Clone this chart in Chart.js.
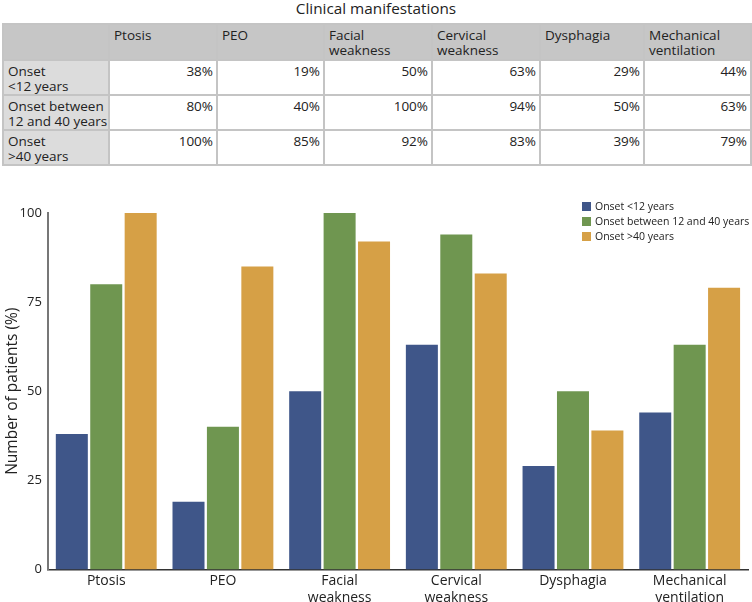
<!DOCTYPE html>
<html>
<head>
<meta charset="utf-8">
<script src="https://cdn.jsdelivr.net/npm/chart.js@4/dist/chart.umd.min.js"></script>
<style>
  body { margin: 0; background: #fff; font-family: "Open Sans", sans-serif; color: #222; }
  #wrap { position: relative; width: 752px; height: 602px; overflow: hidden; }
  #title { position: absolute; top: -2px; left: 0; width: 752px; text-align: center; font-size: 15.3px; }
  table { position: absolute; top: 23px; left: 2px; width: 748px; border-collapse: collapse; table-layout: fixed; font-size: 13.5px; line-height: 15px; }
  td, th { border: 2px solid #c4c4c4; vertical-align: top; padding: 3px 3px 0 4px; font-weight: normal; text-align: left; overflow: hidden; }
  th { background: #c6c6c6; height: 31px; }
  td.rowhead { background: #dcdcdc; white-space: nowrap; }
  td.num { text-align: right; height: 30px; }
  #chartBox { position: absolute; top: 187px; left: 0; width: 752px; height: 422px; }
  #legend { position: absolute; top: 199px; left: 582px; font-size: 10.5px; line-height: 15px; white-space: nowrap; }
  #legend span.box { display: inline-block; width: 9px; height: 9px; margin-right: 4px; vertical-align: -1px; }
</style>
</head>
<body>
<div id="wrap">
  <div id="title">Clinical manifestations</div>
  <table id="tbl"></table>
  <div id="chartBox"><canvas id="myChart" width="752" height="422"></canvas></div>
  <div id="legend"></div>
</div>
<script>
const categories = ['Ptosis', 'PEO', 'Facial weakness', 'Cervical weakness', 'Dysphagia', 'Mechanical ventilation'];
const categoryLines = [['Ptosis'], ['PEO'], ['Facial', 'weakness'], ['Cervical', 'weakness'], ['Dysphagia'], ['Mechanical', 'ventilation']];
const seriesNames = ['Onset <12 years', 'Onset between 12 and 40 years', 'Onset >40 years'];
const rowHeads = [['Onset', '<12 years'], ['Onset between', '12 and 40 years'], ['Onset', '>40 years']];
const under12 = [38, 19, 50, 63, 29, 44];
const between12and40 = [80, 40, 100, 94, 50, 63];
const over40 = [100, 85, 92, 83, 39, 79];
const yTicks = [0, 25, 50, 75, 100];
const colors = ['#3f5689', '#6f9650', '#d6a046'];
const colWidths = [106, 108, 107, 108, 108, 104, 107];

let allSeries = [under12, between12and40, over40];

function esc(s) {
    return s.replace('<', '&lt;').replace('>', '&gt;');
}

// table
let tbl = document.getElementById('tbl');
let html = '<colgroup>' + colWidths.map(w => '<col style="width:' + w + 'px">').join('') + '</colgroup>';
html += '<tr><th></th>';
for (let i = 0; i < categoryLines.length; i++) {
    html += '<th>' + categoryLines[i].join('<br>') + '</th>';
}
html += '</tr>';
for (let r = 0; r < allSeries.length; r++) {
    html += '<tr><td class="rowhead">' + rowHeads[r].map(esc).join('<br>') + '</td>';
    for (let c = 0; c < allSeries[r].length; c++) {
        html += '<td class="num">' + allSeries[r][c] + '%</td>';
    }
    html += '</tr>';
}
tbl.innerHTML = html;

// legend
let legend = document.getElementById('legend');
legend.innerHTML = seriesNames.map((n, i) =>
    '<div><span class="box" style="background:' + colors[i] + '"></span>' + esc(n) + '</div>'
).join('');

let ctx = document.getElementById('myChart').getContext('2d');
let myChart = new Chart(ctx, {
    type: 'bar',
    data: {
        labels: categoryLines,
        datasets: allSeries.map((d, i) => ({
            label: seriesNames[i],
            data: d,
            backgroundColor: colors[i],
            borderWidth: 0,
            categoryPercentage: 0.885,
            barPercentage: 0.93
        }))
    },
    options: {
        responsive: false,
        animation: false,
        layout: { padding: { top: 26, right: 4, left: 0, bottom: 0 } },
        plugins: {
            legend: { display: false },
            tooltip: { enabled: false }
        },
        scales: {
            x: {
                grid: { display: false, drawTicks: false },
                border: { color: '#333', width: 1.5 },
                ticks: { color: '#222', font: { family: 'Open Sans', size: 14 }, padding: 3, maxRotation: 0, autoSkip: false }
            },
            y: {
                min: 0,
                max: 100,
                afterBuildTicks: axis => { axis.ticks = yTicks.map(v => ({ value: v })); },
                grid: { display: false, drawOnChartArea: false, drawTicks: true, tickLength: 5, tickColor: '#777' },
                border: { color: '#777', width: 2 },
                ticks: { color: '#222', font: { family: 'Open Sans', size: 13 }, padding: 1 },
                title: { display: true, text: 'Number of patients (%)', color: '#222', font: { family: 'Open Sans', size: 15.5 }, padding: { top: 3, bottom: -3 } }
            }
        }
    }
});
</script>
</body>
</html>
